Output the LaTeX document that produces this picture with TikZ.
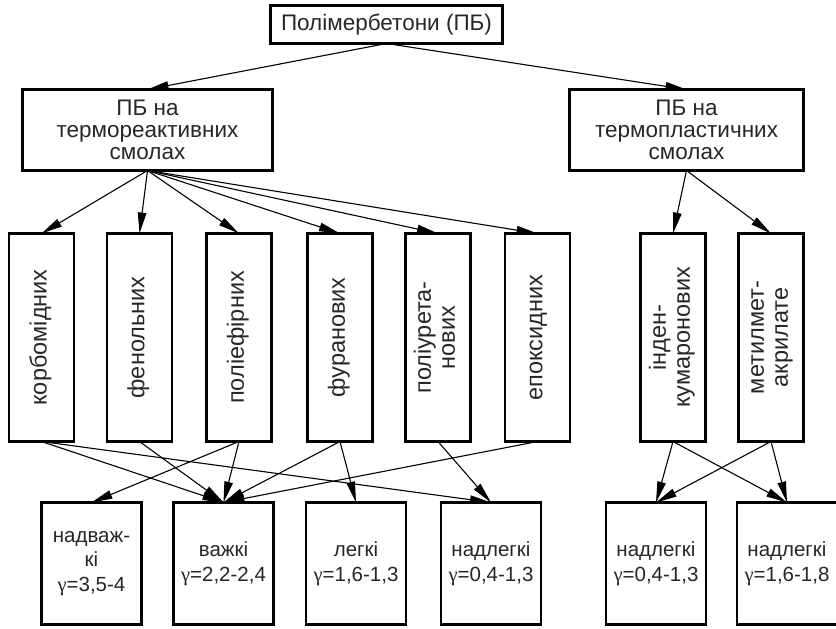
\documentclass[tikz,border=0pt]{standalone}
\usepackage{fontspec}
\setmainfont{Liberation Sans}
\newfontfamily\gammafont{Liberation Serif}
\usetikzlibrary{arrows.meta}
% upright text for the tall resin boxes
\newcommand{\vtext}[1]{\rotatebox{90}{\begin{tabular}{@{}c@{}}#1\end{tabular}}}
\newcommand{\gam}{{\gammafont γ}}
\tikzset{
        treenode/.style={align=center, inner sep=0pt, outer sep=0pt, draw=black, line width=2.8pt, text=black!85},
        % Top node
        node_root/.style={treenode, minimum width=232pt, minimum height=38pt, font=\fontsize{22.5}{22}\selectfont},
        % Resin groups
        node_group/.style={treenode, minimum height=81pt, font=\fontsize{22.5}{22}\selectfont},
        % Resins
        node_resin/.style={treenode, minimum width=65pt, minimum height=208pt, font=\fontsize{23.5}{24}\selectfont},
        % Density classes
        node_class/.style={treenode, minimum width=100pt, minimum height=122pt, font=\fontsize{20.5}{24.5}\selectfont}
}
\begin{document}
\begin{tikzpicture}[
            x=1pt, y=-1pt,
            ->, >={Triangle[length=21pt,width=8.5pt]},
            line width=1.1pt
        ]
            \useasboundingbox (0,0) rectangle (836,629);
            \node[node_root] (pb) at (386.5,24.5) {Полімербетони (ПБ)};

            \node[node_group, minimum width=250pt] (reakt) at (147.5,130) {ПБ на\\термореактивних\\смолах};
            \node[node_group, minimum width=234pt] (plast) at (686.5,130) {ПБ на\\термопластичних\\смолах};

            \node[node_resin] (korb) at (41.5,337.5) {\vtext{корбомідних}};
            \node[node_resin] (fenol) at (139.5,337.5) {\vtext{фенольних}};
            \node[node_resin] (polief) at (239,337.5) {\vtext{поліефірних}};
            \node[node_resin] (furan) at (340,337.5) {\vtext{фуранових}};
            \node[node_resin] (poliur) at (438,337.5) {\vtext{поліурета-\\нових}};
            \node[node_resin] (epoks) at (537.5,337.5) {\vtext{епоксидних}};
            \node[node_resin] (inden) at (673,337.5) {\vtext{інден-\\кумаронових}};
            \node[node_resin] (metil) at (771,337.5) {\vtext{метилмет-\\акрилате}};

            \node[node_class] (nadvazh) at (91.5,563.5) {надваж-\\кі\\\gam=3,5-4};
            \node[node_class] (vazh) at (223.5,563.5) {важкі\\\gam=2,2-2,4};
            \node[node_class] (legk) at (356,563.5) {легкі\\\gam=1,6-1,3};
            \node[node_class] (nadlegk) at (491,563.5) {надлегкі\\\gam=0,4-1,3};
            \node[node_class] (nadlegkA) at (656,563.5) {надлегкі\\\gam=0,4-1,3};
            \node[node_class] (nadlegkB) at (787,563.5) {надлегкі\\\gam=1,6-1,8};

            % resin groups
            \draw (pb.south) -- (reakt.north);
            \draw (pb.south) -- (plast.north);

            % resins
            \draw (reakt.south) -- (korb.north);
            \draw (reakt.south) -- (fenol.north);
            \draw (reakt.south) -- (polief.north);
            \draw (reakt.south) -- (furan.north);
            \draw (reakt.south) -- (poliur.north);
            \draw (reakt.south) -- (epoks.north);
            \draw (plast.south) -- (inden.north);
            \draw (plast.south) -- (metil.north);

            % density classes
            \draw (korb.south) -- (vazh.north);
            \draw (korb.south) -- (nadlegk.north);
            \draw (fenol.south) -- (vazh.north);
            \draw (polief.south) -- (nadvazh.north);
            \draw (polief.south) -- (vazh.north);
            \draw (furan.south) -- (vazh.north);
            \draw (furan.south) -- (legk.north);
            \draw (poliur.south) -- (nadlegk.north);
            \draw (epoks.south) -- (vazh.north);
            \draw (inden.south) -- (nadlegkA.north);
            \draw (inden.south) -- (nadlegkB.north);
            \draw (metil.south) -- (nadlegkA.north);
            \draw (metil.south) -- (nadlegkB.north);
        \end{tikzpicture}
\end{document}
